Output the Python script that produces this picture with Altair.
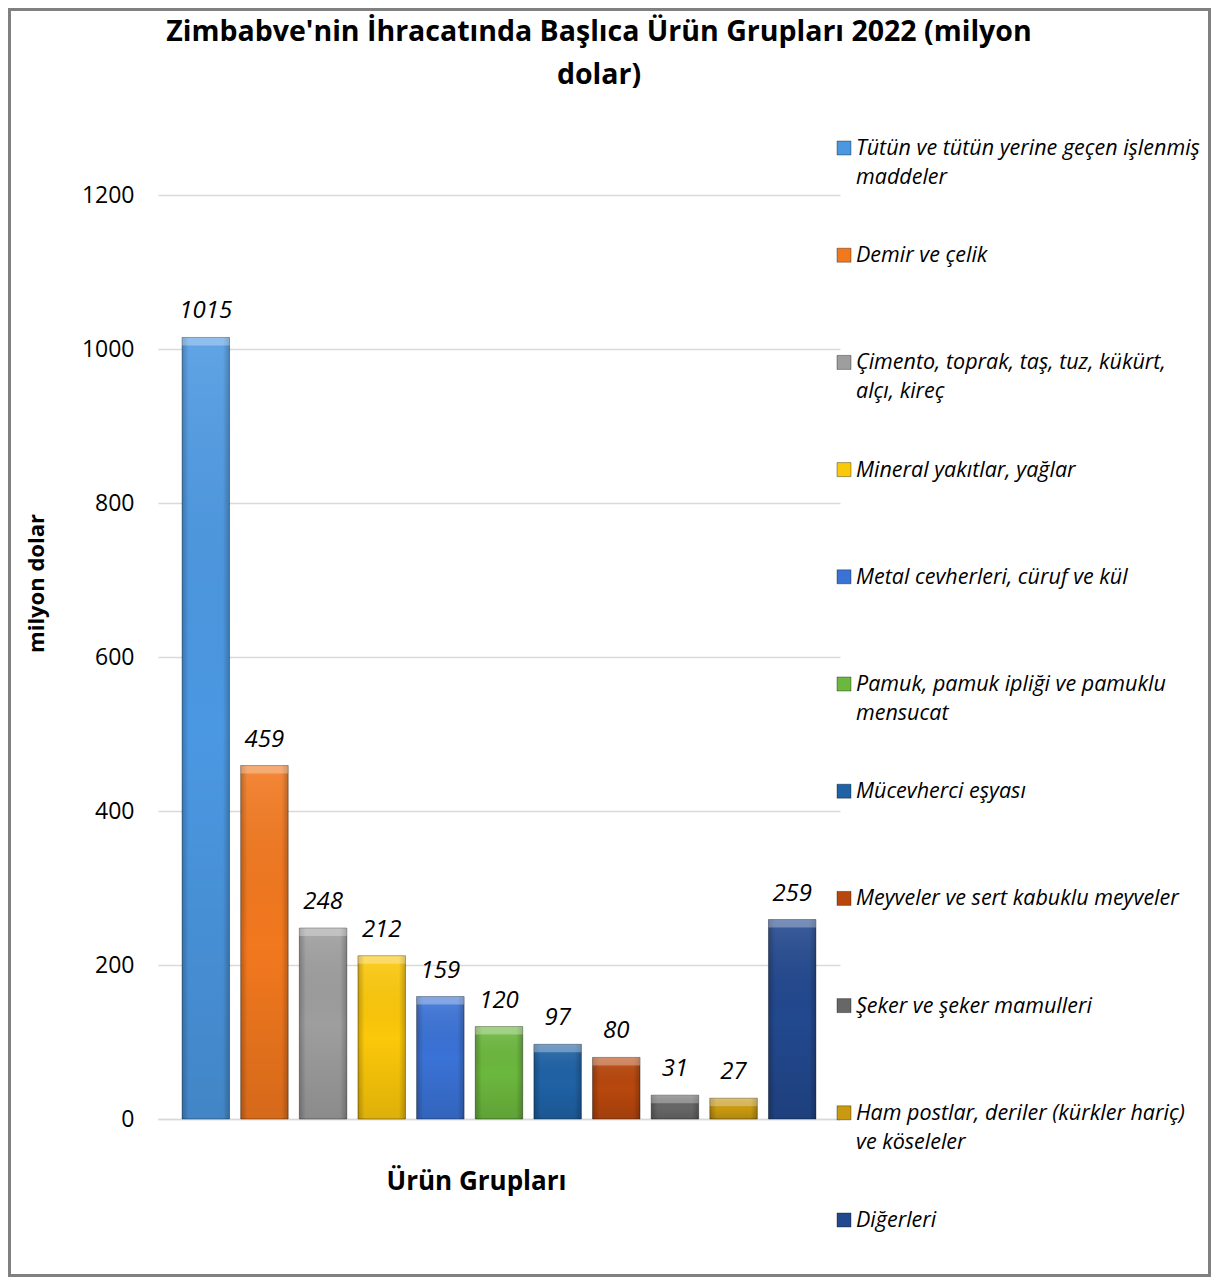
import altair as alt
import pandas as pd

categories = [
    "Tütün ve tütün yerine geçen işlenmiş maddeler",
    "Demir ve çelik",
    "Çimento, toprak, taş, tuz, kükürt, alçı, kireç",
    "Mineral yakıtlar, yağlar",
    "Metal cevherleri, cüruf ve kül",
    "Pamuk, pamuk ipliği ve pamuklu mensucat",
    "Mücevherci eşyası",
    "Meyveler ve sert kabuklu meyveler",
    "Şeker ve şeker mamulleri",
    "Ham postlar, deriler (kürkler hariç) ve köseleler",
    "Diğerleri",
]
legend_labels = [
    "Tütün ve tütün yerine geçen işlenmiş\nmaddeler",
    "Demir ve çelik",
    "Çimento, toprak, taş, tuz, kükürt,\nalçı, kireç",
    "Mineral yakıtlar, yağlar",
    "Metal cevherleri, cüruf ve kül",
    "Pamuk, pamuk ipliği ve pamuklu\nmensucat",
    "Mücevherci eşyası",
    "Meyveler ve sert kabuklu meyveler",
    "Şeker ve şeker mamulleri",
    "Ham postlar, deriler (kürkler hariç)\nve köseleler",
    "Diğerleri",
]
values = [1015, 459, 248, 212, 159, 120, 97, 80, 31, 27, 259]
colors = ["#4b98e2", "#f2781e", "#9e9e9e", "#fcc80a", "#3a72d6", "#6cb83e",
          "#1f62a6", "#b8470d", "#676767", "#c99a10", "#22488e"]
y_ticks = [0, 200, 400, 600, 800, 1000, 1200]

title_text = "Zimbabve'nin İhracatında Başlıca Ürün Grupları 2022 (milyon\ndolar)"

FONT = "Open Sans"

df = pd.DataFrame({"cat": categories, "value": values, "label": legend_labels})

color_scale = alt.Scale(domain=categories, range=colors)
x_enc = alt.X("cat:N", sort=categories,
              scale=alt.Scale(paddingInner=0.19, paddingOuter=0.41),
              axis=alt.Axis(labels=False, ticks=False, domain=True, domainColor="#d9d9d9",
                            domainWidth=1.5, grid=False,
                            title="Ürün Grupları", titleFont=FONT, titleFontSize=26,
                            titleFontWeight="bold", titleColor="#000000",
                            titleX=318, titleY=62, titleBaseline="middle", titleAlign="center"))
y_enc = alt.Y("value:Q", scale=alt.Scale(domain=[0, 1200], nice=False),
              axis=alt.Axis(values=y_ticks, format="d", ticks=False, domain=False, grid=True,
                            gridColor="#d9d9d9", gridWidth=1.5,
                            labelFont=FONT, labelFontSize=23, labelColor="#000000", labelPadding=24,
                            title="milyon dolar", titleFont=FONT, titleFontSize=22,
                            titleFontWeight="bold", titleColor="#000000",
                            titleX=-122, titleY=388, titleAngle=-90,
                            titleAlign="center", titleBaseline="middle"))

base = alt.Chart(df)

bars = base.mark_bar().encode(
    x=x_enc, y=y_enc,
    color=alt.Color("cat:N", scale=color_scale, legend=None),
)

vgrad = alt.LinearGradient(
    gradient="linear", x1=0, x2=0, y1=0, y2=1,
    stops=[alt.GradientStop(color="rgba(255,255,255,0.12)", offset=0),
           alt.GradientStop(color="rgba(0,0,0,0.0)", offset=0.5),
           alt.GradientStop(color="rgba(0,0,0,0.12)", offset=1)])
hgrad = alt.LinearGradient(
    gradient="linear", x1=0, x2=1, y1=0, y2=0,
    stops=[alt.GradientStop(color="rgba(0,0,0,0.22)", offset=0),
           alt.GradientStop(color="rgba(0,0,0,0.0)", offset=0.14),
           alt.GradientStop(color="rgba(0,0,0,0.0)", offset=0.86),
           alt.GradientStop(color="rgba(0,0,0,0.22)", offset=1)])

shade_v = base.mark_bar(color=vgrad).encode(x=alt.X("cat:N", sort=categories), y="value:Q")
shade_h = base.mark_bar(color=hgrad, stroke="rgba(0,0,0,0.35)", strokeWidth=1).encode(
    x=alt.X("cat:N", sort=categories), y="value:Q")
cap = base.mark_bar(color="rgba(255,255,255,0.30)", y2Offset=8).encode(
    x=alt.X("cat:N", sort=categories), y="value:Q", y2="value:Q")

labels = base.mark_text(font=FONT, fontSize=24, fontStyle="italic", color="#000000",
                        baseline="alphabetic", dy=-19).encode(
    x=alt.X("cat:N", sort=categories), y="value:Q", text="value:Q")

main = alt.layer(bars, shade_v, shade_h, cap, labels)

leg_y = alt.Y("cat:N", sort=categories,
              scale=alt.Scale(type="point", domain=categories, range=[-47, 1025], padding=0),
              axis=None)
leg_sq = base.mark_square(size=196, opacity=1, stroke="rgba(0,0,0,0.35)", strokeWidth=1).encode(
    x=alt.value(686), y=leg_y,
    color=alt.Color("cat:N", scale=color_scale, legend=None))
leg_txt = base.mark_text(font=FONT, fontSize=21.5, fontStyle="italic", color="#000000",
                         align="left", baseline="alphabetic", dy=7,
                         lineBreak="\n", lineHeight=29).encode(
    x=alt.value(698), y=leg_y, text="label:N")
legend = alt.layer(leg_sq, leg_txt)

one = pd.DataFrame({"a": [0]})
frame = alt.Chart(one).mark_rect(
    fillOpacity=0, stroke="#808080", strokeWidth=3).encode(
    x=alt.value(-148.5), x2=alt.value(1051.5), y=alt.value(-185.5), y2=alt.value(1080.5))

title = alt.Chart(one).mark_text(
    text=title_text, lineBreak="\n", lineHeight=43, font=FONT, fontSize=28.5, fontWeight="bold",
    color="#000000", align="center", baseline="middle").encode(
    x=alt.value(441), y=alt.value(-163))

chart = alt.layer(frame, main, legend, title).resolve_scale(y="independent").properties(
    width=682, height=924,
    padding={"left": 150, "top": 187, "right": 371, "bottom": 158},
    autosize=alt.AutoSizeParams(type="none"),
).configure_view(stroke="transparent")

chart.save("out.html", embed_options={"renderer": "svg", "actions": False})
